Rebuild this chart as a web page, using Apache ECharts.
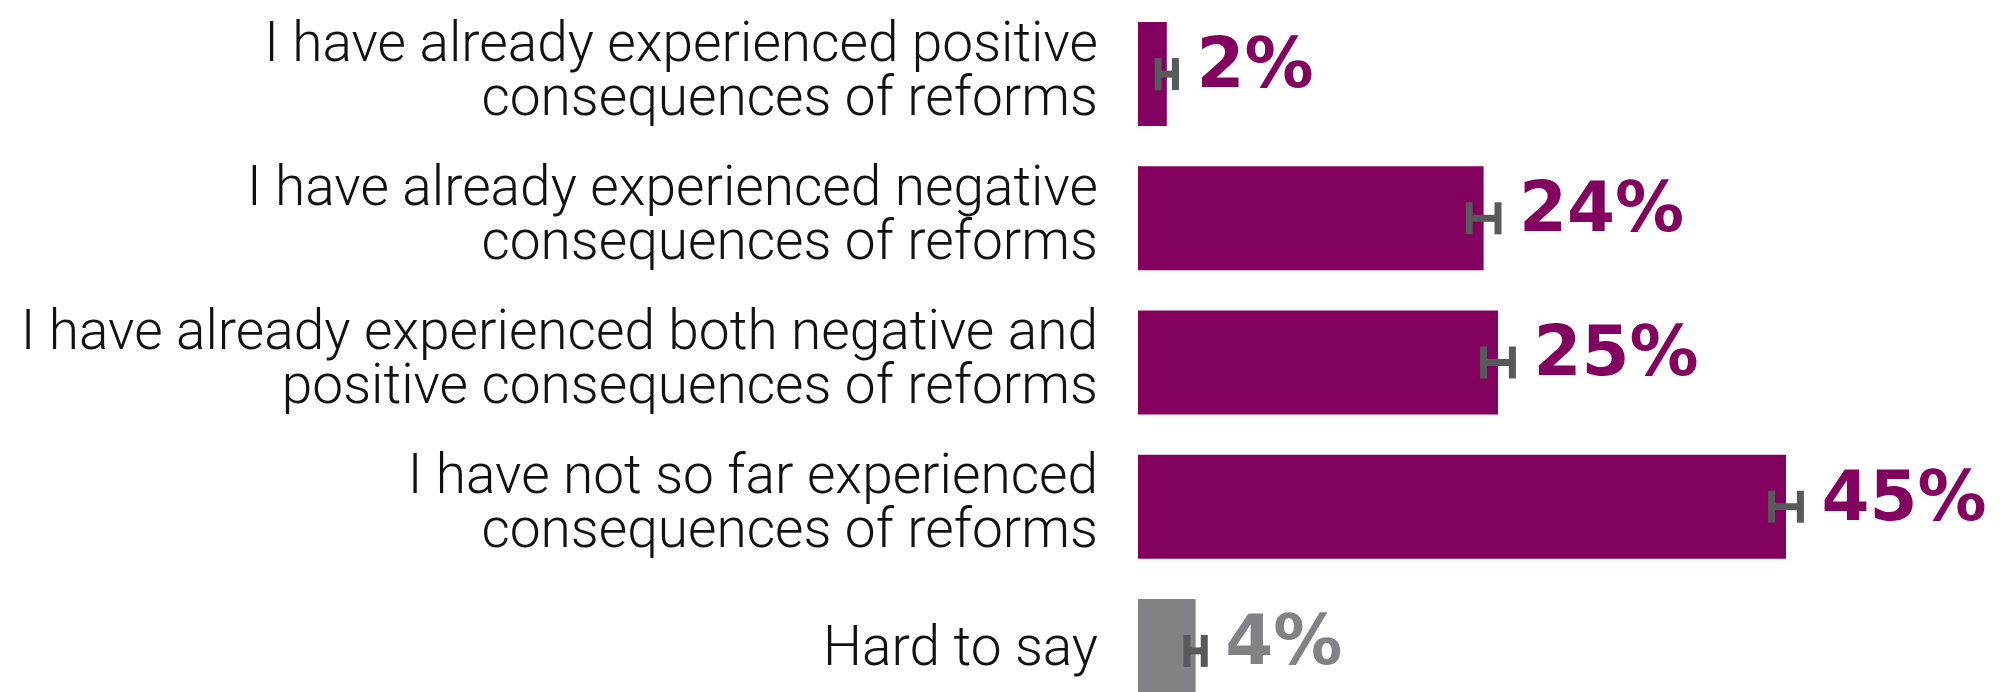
<!DOCTYPE html>
<html>
<head>
<meta charset="utf-8">
<title>Consequences of reforms</title>
<script src="https://cdn.jsdelivr.net/npm/echarts@6/dist/echarts.min.js"></script>
<style>
  html, body { margin: 0; padding: 0; background: #fff; }
  #chart { width: 2001px; height: 692px; }
</style>
</head>
<body>
<div id="chart"></div>
<script>
// data
const categories = [
  'I have already experienced positive\nconsequences of reforms',
  'I have already experienced negative\nconsequences of reforms',
  'I have already experienced both negative and\npositive consequences of reforms',
  'I have not so far experienced\nconsequences of reforms',
  'Hard to say'
]
const values = [2, 24, 25, 45, 4]
const errors = [0.6, 1.0, 1.0, 1.0, 0.6]

const PURPLE = '#82005E'
const GRAY = '#808285'
const ERR_COLOR = '#58595B'

// last category is drawn in gray
function colorOf (i) {
  return i === categories.length - 1 ? GRAY : PURPLE
}

const chart = echarts.init(document.getElementById('chart'))

chart.setOption({
  animation: false,
  grid: {
    left: 1138,
    right: 143,
    top: 2,
    height: 721,
    outerBoundsMode: 'none'
  },
  xAxis: {
    type: 'value',
    min: 0,
    max: 50,
    show: false
  },
  yAxis: {
    type: 'category',
    inverse: true,
    data: categories,
    axisLine: { show: false },
    axisTick: { show: false },
    splitLine: { show: false },
    axisLabel: {
      margin: 40,
      align: 'right',
      color: '#111',
      fontFamily: 'Roboto',
      fontWeight: 300,
      fontSize: 55,
      lineHeight: 54
    }
  },
  series: [
    {
      type: 'bar',
      barWidth: 104,
      data: values.map((v, i) => ({ value: v, itemStyle: { color: colorOf(i) } }))
    },
    {
      // error bar (H shape) plus the percent label
      type: 'custom',
      data: values.map((v, i) => [v, i, errors[i]]),
      encode: { x: 0, y: 1 },
      z: 5,
      renderItem: function (params, api) {
        const v = api.value(0)
        const idx = api.value(1)
        const e = api.value(2)
        const lo = api.coord([v - e, idx])
        const hi = api.coord([v + e, idx])
        const h = 16
        const st = { stroke: ERR_COLOR, lineWidth: 7 }
        return {
          type: 'group',
          children: [
            { type: 'line', shape: { x1: lo[0], y1: lo[1] - h, x2: lo[0], y2: lo[1] + h }, style: st },
            { type: 'line', shape: { x1: hi[0], y1: hi[1] - h, x2: hi[0], y2: hi[1] + h }, style: st },
            { type: 'line', shape: { x1: lo[0], y1: lo[1], x2: hi[0], y2: hi[1] }, style: st },
            {
              type: 'text',
              x: hi[0] + 21,
              y: hi[1] - 5,
              style: {
                text: v + '%',
                fill: colorOf(params.dataIndex),
                fontFamily: 'DejaVu Sans',
                fontWeight: 'bold',
                fontSize: 69,
                align: 'left',
                verticalAlign: 'middle'
              }
            }
          ]
        }
      }
    }
  ]
})
</script>
</body>
</html>
